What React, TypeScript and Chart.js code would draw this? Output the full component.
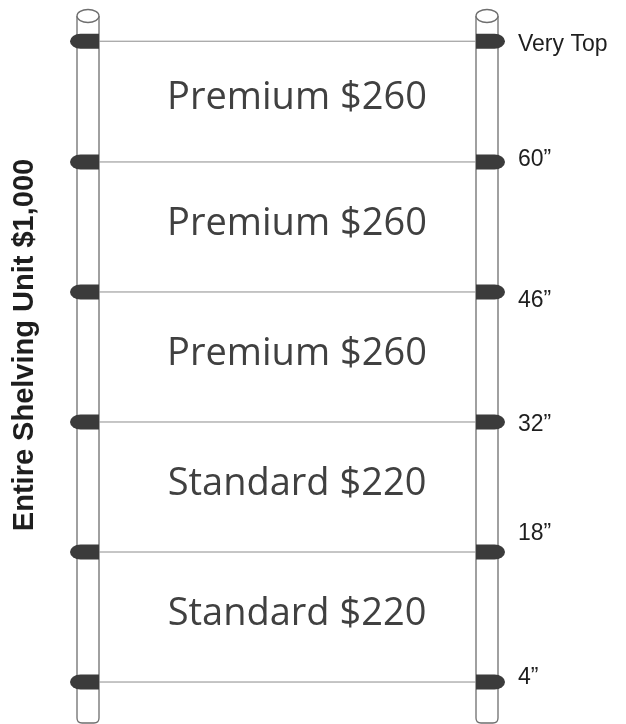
import React, { useEffect, useRef } from "react";
import { Chart, registerables } from "chart.js";

Chart.register(...registerables);

// ---- data ----
// shelf heights in inches (the "Very Top" bar has no printed value; ~73" estimated)
const shelfHeights = [73, 60, 46, 32, 18, 4];
const heightLabels = ["Very Top", "60\u201D", "46\u201D", "32\u201D", "18\u201D", "4\u201D"];
const sectionLabels = ["Premium $260", "Premium $260", "Premium $260", "Standard $220", "Standard $220"];
const unitTitle = "Entire Shelving Unit $1,000";

// ---- style / layout ----
const W = 626;
const H = 724;
const POST_L = [77, 99];
const POST_R = [476, 498];
const POST_TOP = 16;
const POST_BOTTOM = 723;
const PEG_LEN = 29;
const PEG_H = 15;
const PEG_COLOR = "#3b3b3b";
const POST_COLOR = "#6e6e6e";
const SHELF_COLOR = "#8c8c8c";
const LABEL_NUDGE = [3, -2, 9, 3, -18, -4];

const shelfPlugin = {
  id: "shelfPlugin",
  beforeDatasetsDraw(chart: any) {
    const ctx = chart.ctx as CanvasRenderingContext2D;
    const xs = chart.scales.x;
    ctx.save();
    ctx.strokeStyle = POST_COLOR;
    ctx.lineWidth = 1.3;
    for (const p of [POST_L, POST_R]) {
      const a = xs.getPixelForValue(p[0]);
      const b = xs.getPixelForValue(p[1]);
      const cx = (a + b) / 2;
      const rx = (b - a) / 2;
      ctx.beginPath();
      ctx.moveTo(a, POST_TOP);
      ctx.lineTo(a, POST_BOTTOM - 5);
      ctx.quadraticCurveTo(a, POST_BOTTOM, a + 5, POST_BOTTOM);
      ctx.lineTo(b - 5, POST_BOTTOM);
      ctx.quadraticCurveTo(b, POST_BOTTOM, b, POST_BOTTOM - 5);
      ctx.lineTo(b, POST_TOP);
      ctx.stroke();
      ctx.beginPath();
      ctx.fillStyle = "#ffffff";
      ctx.ellipse(cx, POST_TOP, rx, 6.5, 0, 0, Math.PI * 2);
      ctx.fill();
      ctx.stroke();
    }
    ctx.restore();
  },
  afterDatasetsDraw(chart: any) {
    const ctx = chart.ctx as CanvasRenderingContext2D;
    const xs = chart.scales.x;
    const ys = chart.scales.y;
    ctx.save();
    ctx.fillStyle = PEG_COLOR;
    shelfHeights.forEach((h) => {
      const y = ys.getPixelForValue(h);
      const lInner = xs.getPixelForValue(POST_L[1]);
      const rInner = xs.getPixelForValue(POST_R[0]);
      const r = PEG_H / 2;
      ctx.beginPath();
      ctx.moveTo(lInner, y - r);
      ctx.lineTo(lInner - PEG_LEN + r * 1.4, y - r);
      ctx.ellipse(lInner - PEG_LEN + r * 1.4, y, r * 1.4, r, 0, -Math.PI / 2, Math.PI / 2, true);
      ctx.lineTo(lInner, y + r);
      ctx.closePath();
      ctx.fill();
      ctx.beginPath();
      ctx.moveTo(rInner, y - r);
      ctx.lineTo(rInner + PEG_LEN - r * 1.4, y - r);
      ctx.ellipse(rInner + PEG_LEN - r * 1.4, y, r * 1.4, r, 0, -Math.PI / 2, Math.PI / 2, false);
      ctx.lineTo(rInner, y + r);
      ctx.closePath();
      ctx.fill();
    });
    ctx.fillStyle = "#1e1e1e";
    ctx.font = "23px 'Liberation Sans', Arial, sans-serif";
    ctx.textAlign = "left";
    ctx.textBaseline = "middle";
    shelfHeights.forEach((h, i) => {
      const y = ys.getPixelForValue(h) + LABEL_NUDGE[i];
      ctx.fillText(heightLabels[i], xs.getPixelForValue(518), y);
    });
    ctx.fillStyle = "#404040";
    ctx.font = "38px 'Open Sans', 'Noto Sans', sans-serif";
    ctx.textAlign = "center";
    sectionLabels.forEach((t, i) => {
      const y = (ys.getPixelForValue(shelfHeights[i]) + ys.getPixelForValue(shelfHeights[i + 1])) / 2;
      ctx.fillText(t, xs.getPixelForValue(297), y - 3);
    });
    ctx.fillStyle = "#1e1e1e";
    ctx.font = "bold 29px 'Liberation Sans', Arial, sans-serif";
    ctx.translate(25, 345);
    ctx.rotate(-Math.PI / 2);
    ctx.textAlign = "center";
    ctx.textBaseline = "middle";
    ctx.fillText(unitTitle, 0, 0);
    ctx.restore();
  },
};

export default function App() {
  const ref = useRef<HTMLCanvasElement | null>(null);
  useEffect(() => {
    if (!ref.current) return;
    const datasets = shelfHeights.map((h, i) => ({
      label: heightLabels[i],
      data: [
        { x: POST_L[1], y: h },
        { x: POST_R[0], y: h },
      ],
      borderColor: SHELF_COLOR,
      borderWidth: 1,
      pointRadius: 0,
      showLine: true,
      fill: false,
    }));
    const chart = new Chart(ref.current, {
      type: "scatter",
      data: { datasets },
      options: {
        animation: false,
        responsive: false,
        devicePixelRatio: 1,
        layout: { padding: 0 },
        plugins: { legend: { display: false }, tooltip: { enabled: false } },
        scales: {
          x: { type: "linear", display: false, min: 0, max: W },
          y: { type: "linear", display: false, min: -0.52, max: 77.44 },
        },
      },
      plugins: [shelfPlugin],
    } as any);
    return () => chart.destroy();
  }, []);
  return (
    <div style={{ position: "absolute", left: 0, top: 0, width: W, height: H, background: "#fff" }}>
      <canvas ref={ref} width={W} height={H} />
    </div>
  );
}
